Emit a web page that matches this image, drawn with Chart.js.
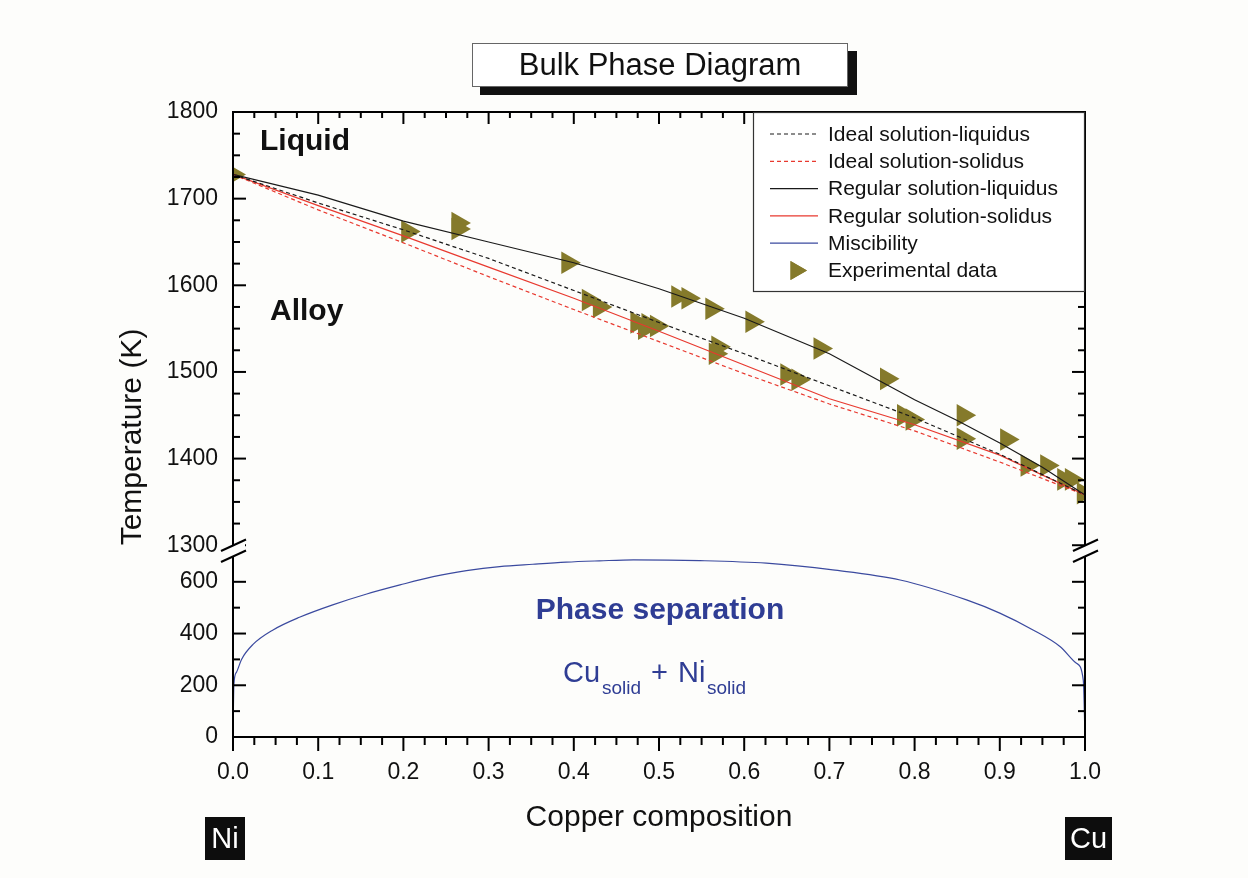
<!DOCTYPE html>
<html>
<head>
<meta charset="utf-8">
<title>Bulk Phase Diagram</title>
<script src="https://cdn.jsdelivr.net/npm/chart.js@4.4.1/dist/chart.umd.min.js"></script>
<style>
  html, body { margin: 0; padding: 0; background: #fdfdfb; }
  #wrap { position: relative; width: 1248px; height: 878px; }
</style>
</head>
<body>
<div id="wrap"><canvas id="phaseChart" width="1248" height="878"></canvas></div>
<script>
// Copper composition grid for the model curves
const composition = [0, 0.1, 0.2, 0.3, 0.4, 0.5, 0.6, 0.7, 0.8, 0.9, 1.0];
const idealLiquidus = [1728, 1695, 1664, 1631, 1594, 1557, 1521, 1484, 1447, 1405, 1358];
const idealSolidus = [1728, 1687, 1649, 1610, 1572, 1535, 1498, 1463, 1432, 1396, 1358];
const regularSolidus = [1728, 1692, 1657, 1621, 1585, 1547, 1508, 1469, 1439, 1404, 1358];

const regularComposition = [0, 0.1, 0.2, 0.3, 0.4, 0.5, 0.6, 0.7, 0.8, 0.85, 0.9, 0.95, 1.0];
const regularLiquidus = [1728, 1704, 1674, 1650, 1626, 1596, 1562, 1521, 1468, 1444, 1418, 1390, 1358];

// Miscibility gap (lower panel)
const miscComposition = [0, 0.001, 0.004, 0.01, 0.0235, 0.047, 0.078, 0.117, 0.157, 0.196, 0.235, 0.274, 0.313, 0.352, 0.391, 0.43, 0.47, 0.548, 0.626, 0.704, 0.783, 0.861, 0.9, 0.939, 0.971, 0.99, 0.998, 1.0];
const miscTemperature = [0, 201, 250, 300, 358, 414, 463, 511, 553, 588, 620, 643, 659, 668, 676, 681, 685, 682, 672, 646, 607, 530, 479, 414, 349, 285, 220, 0];

// Experimental points
const expComposition = [0, 0.205, 0.264, 0.264, 0.393, 0.417, 0.43, 0.474, 0.483, 0.487, 0.497, 0.522, 0.534, 0.562, 0.609, 0.569, 0.566, 0.65, 0.663, 0.689, 0.767, 0.787, 0.797, 0.857, 0.857, 0.908, 0.932, 0.955, 0.975, 0.984, 0.998];
const expTemperature = [1728, 1662, 1672, 1665, 1626, 1583, 1575, 1557, 1550, 1555, 1553, 1587, 1585, 1573, 1558, 1529, 1521, 1497, 1491, 1527, 1492, 1450, 1445, 1450, 1423, 1422, 1392, 1392, 1376, 1376, 1360];

// Tick labels
const xTicks = [0, 0.1, 0.2, 0.3, 0.4, 0.5, 0.6, 0.7, 0.8, 0.9, 1.0];
const upperTicks = [1300, 1400, 1500, 1600, 1700, 1800];
const lowerTicks = [0, 200, 400, 600];

const FONT = "'Liberation Sans', Arial, sans-serif";
const BLUE_TEXT = '#2f3d94';

function toPoints(xs, ys) {
    return xs.map((x, i) => ({ x: x, y: ys[i] }));
}

// axis frame, inward ticks, break marks, labels and legend
const framePlugin = {
    id: 'frame',
    beforeDraw(chart) {
        const ctx = chart.ctx;
        ctx.save();
        ctx.fillStyle = '#fdfdfb';
        ctx.fillRect(0, 0, chart.width, chart.height);
        ctx.restore();
    },
    afterDraw(chart) {
        const { ctx, chartArea } = chart;
        const xs = chart.scales.x;
        const yt = chart.scales.yTop;
        const yb = chart.scales.yBot;
        const L = chartArea.left, R = chartArea.right, T = chartArea.top, B = chartArea.bottom;

        ctx.save();
        ctx.strokeStyle = '#000';
        ctx.lineCap = 'butt';

        // frame
        ctx.lineWidth = 2;
        ctx.strokeRect(L, T, R - L, B - T);

        // ticks
        function tick(x1, y1, x2, y2) {
            ctx.beginPath();
            ctx.moveTo(x1, y1);
            ctx.lineTo(x2, y2);
            ctx.stroke();
        }
        for (let v = 0; v <= 1.0001; v += 0.025) {
            const major = Math.abs(v * 10 - Math.round(v * 10)) < 1e-6;
            const px = xs.getPixelForValue(v);
            tick(px, T, px, T + (major ? 12 : 6));
            tick(px, B, px, B + (major ? 14 : 8));
        }
        for (let v = 1300; v <= 1800; v += 25) {
            const major = v % 100 === 0;
            const py = yt.getPixelForValue(v);
            tick(L, py, L + (major ? 13 : 7), py);
            tick(R, py, R - (major ? 13 : 7), py);
        }
        for (let v = 0; v <= 600; v += 100) {
            const major = v % 200 === 0;
            const py = yb.getPixelForValue(v);
            tick(L, py, L + (major ? 13 : 7), py);
            tick(R, py, R - (major ? 13 : 7), py);
        }

        // axis break marks
        const breakY = yt.bottom;
        [L, R].forEach(ax => {
            ctx.fillStyle = '#fdfdfb';
            ctx.beginPath();
            ctx.moveTo(ax - 12, breakY + 1);
            ctx.lineTo(ax + 12, breakY - 10);
            ctx.lineTo(ax + 12, breakY + 1);
            ctx.lineTo(ax - 12, breakY + 12);
            ctx.closePath();
            ctx.fill();
            ctx.lineWidth = 2;
            tick(ax - 12, breakY + 1, ax + 13, breakY - 10.5);
            tick(ax - 12, breakY + 12, ax + 13, breakY + 0.5);
        });

        // title box
        ctx.fillStyle = '#111';
        ctx.fillRect(480, 51, 377, 44);
        ctx.fillStyle = '#fff';
        ctx.fillRect(472, 43, 376, 44);
        ctx.lineWidth = 1;
        ctx.strokeStyle = '#666';
        ctx.strokeRect(472.5, 43.5, 375, 43);
        ctx.fillStyle = '#111';
        ctx.font = '31px ' + FONT;
        ctx.textAlign = 'center';
        ctx.textBaseline = 'middle';
        ctx.fillText('Bulk Phase Diagram', 660, 66);

        // region labels
        ctx.textAlign = 'left';
        ctx.textBaseline = 'alphabetic';
        ctx.font = 'bold 30px ' + FONT;
        ctx.fillText('Liquid', 260, 150);
        ctx.fillText('Alloy', 270, 320);

        ctx.fillStyle = BLUE_TEXT;
        ctx.font = 'bold 30px ' + FONT;
        ctx.textAlign = 'center';
        ctx.fillText('Phase separation', 660, 619);
        ctx.textAlign = 'left';
        ctx.font = '29px ' + FONT;
        ctx.fillText('Cu', 563, 682);
        ctx.fillText('+', 651, 682);
        ctx.fillText('Ni', 678, 682);
        ctx.font = '19px ' + FONT;
        ctx.fillText('solid', 602, 694);
        ctx.fillText('solid', 707, 694);

        // axis titles
        ctx.fillStyle = '#111';
        ctx.font = '30px ' + FONT;
        ctx.textAlign = 'center';
        ctx.textBaseline = 'middle';
        ctx.fillText('Copper composition', (L + R) / 2, 818);
        ctx.save();
        ctx.translate(133, 437);
        ctx.rotate(-Math.PI / 2);
        ctx.fillText('Temperature (K)', 0, 0);
        ctx.restore();

        // element tags
        ctx.fillStyle = '#0d0d0d';
        ctx.fillRect(205, 817, 40, 43);
        ctx.fillRect(1065, 817, 47, 43);
        ctx.fillStyle = '#fff';
        ctx.font = '29px ' + FONT;
        ctx.fillText('Ni', 225, 840);
        ctx.fillText('Cu', 1088.5, 840);

        // legend
        const lx = 753, ly = T, lw = R - 753, lh = 179;
        ctx.fillStyle = '#fff';
        ctx.fillRect(lx, ly, lw, lh);
        ctx.strokeStyle = '#333';
        ctx.lineWidth = 1.2;
        ctx.strokeRect(lx + 0.5, ly + 0.5, lw - 1, lh);
        ctx.font = '21px ' + FONT;
        ctx.textAlign = 'left';
        ctx.textBaseline = 'middle';
        chart.data.datasets.forEach((ds, i) => {
            const ry = 134 + i * 27.3;
            if (ds.showLine) {
                ctx.strokeStyle = ds.borderColor;
                ctx.lineWidth = ds.borderWidth;
                ctx.setLineDash(ds.borderDash || []);
                tick(770, ry, 818, ry);
                ctx.setLineDash([]);
            } else {
                ctx.fillStyle = ds.backgroundColor;
                Chart.helpers.drawPoint(ctx, { pointStyle: 'triangle', rotation: 90, radius: 11, borderWidth: 0 }, 796, ry);
                ctx.fill();
            }
            ctx.fillStyle = '#111';
            ctx.fillText(ds.label, 828, ry + 1);
        });

        ctx.restore();
    }
};

const lineBase = { showLine: true, pointRadius: 0, borderWidth: 1.2, fill: false, tension: 0 };

const ctx = document.getElementById('phaseChart').getContext('2d');
const phaseChart = new Chart(ctx, {
    type: 'scatter',
    data: {
        datasets: [
            Object.assign({ label: 'Ideal solution-liquidus', data: toPoints(composition, idealLiquidus), borderColor: '#1a1a1a', borderDash: [4, 3], yAxisID: 'yTop' }, lineBase),
            Object.assign({ label: 'Ideal solution-solidus', data: toPoints(composition, idealSolidus), borderColor: '#e8392f', borderDash: [4, 3], yAxisID: 'yTop' }, lineBase),
            Object.assign({ label: 'Regular solution-liquidus', data: toPoints(regularComposition, regularLiquidus), borderColor: '#1a1a1a', yAxisID: 'yTop' }, lineBase),
            Object.assign({ label: 'Regular solution-solidus', data: toPoints(composition, regularSolidus), borderColor: '#e8392f', yAxisID: 'yTop' }, lineBase),
            Object.assign({ label: 'Miscibility', data: toPoints(miscComposition, miscTemperature), borderColor: '#3b4a9f', yAxisID: 'yBot' }, lineBase, { cubicInterpolationMode: 'monotone' }),
            {
                label: 'Experimental data',
                data: toPoints(expComposition, expTemperature),
                yAxisID: 'yTop',
                showLine: false,
                pointStyle: 'triangle',
                rotation: 90,
                pointRadius: 13,
                pointBorderWidth: 0,
                backgroundColor: '#857a2b',
                borderColor: '#857a2b',
                clip: 0
            }
        ]
    },
    options: {
        responsive: false,
        animation: false,
        devicePixelRatio: 1,
        layout: { padding: { left: 0, right: 163, top: 112, bottom: 91 } },
        plugins: {
            legend: { display: false },
            tooltip: { enabled: false }
        },
        scales: {
            x: {
                type: 'linear',
                min: 0,
                max: 1,
                grid: { display: false, drawTicks: false },
                border: { display: false },
                afterBuildTicks: s => { s.ticks = xTicks.map(v => ({ value: v })); },
                afterFit: s => { s.height = 50; },
                ticks: {
                    padding: 22,
                    color: '#111',
                    font: { family: FONT, size: 23 },
                    callback: v => v.toFixed(1)
                }
            },
            yBot: {
                type: 'linear',
                position: 'left',
                stack: 'temp',
                stackWeight: 187,
                min: 0,
                max: 723,
                grid: { display: false, drawTicks: false },
                border: { display: false },
                afterBuildTicks: s => { s.ticks = lowerTicks.map(v => ({ value: v })); },
                afterFit: s => { s.width = 233; },
                ticks: { padding: 15, color: '#111', font: { family: FONT, size: 23 }, callback: v => String(v) }
            },
            yTop: {
                type: 'linear',
                position: 'left',
                stack: 'temp',
                stackWeight: 438,
                min: 1294.5,
                max: 1800,
                grid: { display: false, drawTicks: false },
                border: { display: false },
                afterBuildTicks: s => { s.ticks = upperTicks.map(v => ({ value: v })); },
                afterFit: s => { s.width = 233; },
                ticks: { padding: 15, color: '#111', font: { family: FONT, size: 23 }, callback: v => String(v) }
            }
        }
    },
    plugins: [framePlugin]
});
</script>
</body>
</html>
